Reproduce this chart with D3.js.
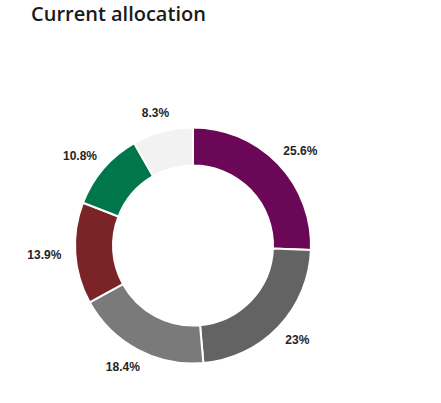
<!DOCTYPE html>
<html lang="en">
<head>
<meta charset="utf-8">
<title>Current allocation</title>
<script src="https://d3js.org/d3.v7.min.js"></script>
<style>
    body { margin: 0; background: #fff; }
    .title { font-family: "Open Sans", sans-serif; font-weight: 600; font-size: 20px; fill: #1a1a1a; }
    .lbl { font-family: "Liberation Sans", Arial, sans-serif; font-weight: bold; font-size: 12px; fill: #252423; }
</style>
</head>
<body>
<svg></svg>
<script>
    var categories = ["A", "B", "C", "D", "E", "F"];
    var values = [25.6, 23, 18.4, 13.9, 10.8, 8.3];
    var labels = ["25.6%", "23%", "18.4%", "13.9%", "10.8%", "8.3%"];
    var colors = ["#6b0757", "#636363", "#7a7a7a", "#7b2428", "#00774a", "#f2f2f2"];

    var width = 441, height = 403;
    var svg = d3.select("svg").attr("width", width).attr("height", height);

    svg.append("text").attr("class", "title")
        .attr("x", 31).attr("y", 21)
        .text("Current allocation");

    var outer = 118, inner = 80, labelR = 132;
    var g = svg.append("g").attr("transform", "translate(193,245.5)");

    var pie = d3.pie().sort(null).value(d => d.v);
    var arcs = pie(categories.map((c, i) => ({ c: c, v: values[i], i: i })));

    var arc = d3.arc().innerRadius(inner).outerRadius(outer);

    g.selectAll("path").data(arcs).enter().append("path")
        .attr("d", arc)
        .attr("fill", d => colors[d.data.i])
        .attr("stroke", "#fff")
        .attr("stroke-width", 2);

    // labels sit just outside the ring, pushed out by half their box
    g.selectAll(".lbl").data(arcs).enter().append("text")
        .attr("class", "lbl")
        .attr("text-anchor", "middle")
        .attr("dy", "0.35em")
        .text(d => labels[d.data.i])
        .attr("transform", function(d) {
            var a = (d.startAngle + d.endAngle) / 2;
            var w = this.getComputedTextLength();
            var x = Math.sin(a) * (labelR + w / 2);
            var y = -Math.cos(a) * (labelR + 5);
            return "translate(" + x + "," + y + ")";
        });
</script>
</body>
</html>
